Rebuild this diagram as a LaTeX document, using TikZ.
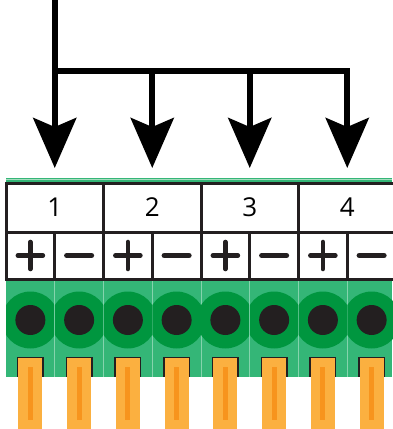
\documentclass[tikz,border=0pt]{standalone}
\usepackage{fontspec}
\setsansfont{Open Sans}
\usepackage{xcolor}
\usetikzlibrary{arrows.meta}

\definecolor{ink}{HTML}{231F20}
\definecolor{bodygreen}{HTML}{34B677}
\definecolor{socketgreen}{HTML}{00963F}
\definecolor{edgegreen}{HTML}{A6DDBF}
\definecolor{pinorange}{HTML}{FBB040}
\definecolor{pinstripe}{HTML}{F7941D}

\begin{document}
\begin{tikzpicture}[x=1pt, y=-1pt,
		cell/.style={draw=ink, fill=white, line width=3pt, inner sep=0pt, outer sep=0pt},
		numcell/.style={cell, minimum width=97.5pt, minimum height=49pt, font=\sffamily\fontsize{26}{30}\selectfont},
		signcell/.style={cell, minimum width=48.75pt, minimum height=47pt},
		sign/.style={draw=ink, line width=4.6pt, line cap=round},
		feed/.style={line width=6pt},
		feedarrow/.style={feed, -{Stealth[length=50pt, width=43pt, inset=9pt]}}]
	\useasboundingbox (0,0) rectangle (392,429);

	% block body
	\fill[bodygreen] (6,178) rectangle (392,377);
	\draw[edgegreen, line width=1.5pt] (6,179.5) -- (392,179.5);

	% sockets and pins
	\foreach \k in {0,...,7} {
		\pgfmathsetmacro\cx{30.375+48.75*\k}
		\begin{scope}
			\clip (\cx-24.375,280) rectangle (\cx+24.375,377);
			\fill[socketgreen] (\cx,320) circle (28.5);
		\end{scope}
		\draw[bodygreen!60!white, line width=0.8pt] (\cx+24.375,280) -- (\cx+24.375,377);
		\fill[ink] (\cx,320) circle (15);
		\fill[ink] (\cx-13.5,357) rectangle (\cx+13.5,377);
		\fill[pinorange] (\cx-12,358) rectangle (\cx+12,429);
		\fill[pinstripe] (\cx-2.5,367) rectangle (\cx+2.5,420);
	}

	% terminal labels
	\foreach \n [count=\i from 0] in {1,2,3,4} {
		\node[numcell] (num\n) at (54.75+97.5*\i,207.5) {\n};
		\node[signcell] (plus\n) at (30.375+97.5*\i,255.5) {};
		\node[signcell] (minus\n) at (79.125+97.5*\i,255.5) {};
		\draw[sign] ([xshift=-12.5pt]plus\n.center) -- ([xshift=12.5pt]plus\n.center)
			([yshift=-13.5pt]plus\n.center) -- ([yshift=13.5pt]plus\n.center);
		\draw[sign, line width=5pt] ([xshift=-12.5pt]minus\n.center) -- ([xshift=12.5pt]minus\n.center);
	}

	% supply lines
	\coordinate (feed) at (54.75,-5);
	\coordinate (bus) at (54.75,71);
	\draw[feedarrow] (feed) -- (bus) -- (bus -| num4) -- ([yshift=15pt]num4.north);
	\foreach \n in {1,2,3}
		\draw[feedarrow] (bus -| num\n) -- ([yshift=15pt]num\n.north);
\end{tikzpicture}
\end{document}
